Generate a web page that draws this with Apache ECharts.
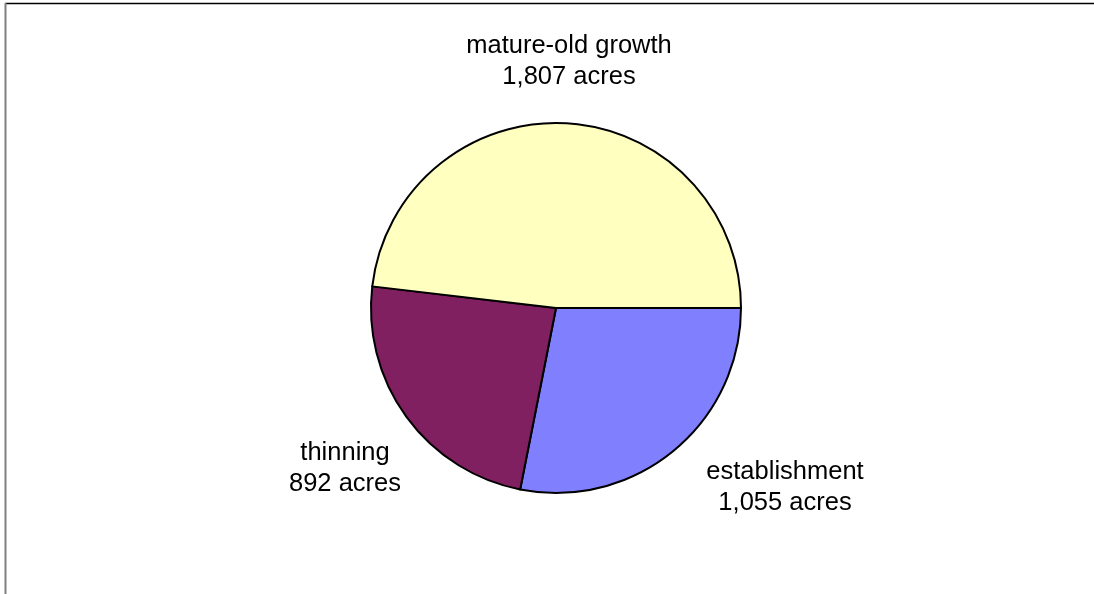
<!DOCTYPE html>
<html>
<head>
<meta charset="utf-8">
<script src="https://cdn.jsdelivr.net/npm/echarts@6/dist/echarts.min.js"></script>
<style>
html,body{margin:0;padding:0;background:#fff;}
#chart{width:1094px;height:594px;}
</style>
</head>
<body>
<div id="chart"></div>
<script>
// Data
var categories = ['establishment', 'thinning', 'mature-old growth'];
var values = [1055, 892, 1807];
var unitLabel = 'acres';

// Styles
var colors = ['#8080FF', '#802060', '#FFFFC0'];
var center = [556, 308];
var radius = 185;
// label block centre offsets from pie centre (style)
var labelOffsets = [[229, 179], [-211, 160], [13, -247]];

var chart = echarts.init(document.getElementById('chart'), null, {renderer: 'canvas'});

var data = categories.map(function (c, i) {
  return {name: c, value: values[i], itemStyle: {color: colors[i]}};
});

chart.setOption({
  backgroundColor: '#ffffff',
  animation: false,
  graphic: [
    {type: 'line', shape: {x1: 5, y1: 3.5, x2: 1094, y2: 3.5}, style: {stroke: '#000', lineWidth: 1.5}},
    {type: 'line', shape: {x1: 5.5, y1: 3, x2: 5.5, y2: 594}, style: {stroke: '#808080', lineWidth: 2}}
  ],
  series: [{
    type: 'pie',
    center: center,
    radius: radius,
    startAngle: 0,
    clockwise: true,
    avoidLabelOverlap: false,
    data: data,
    itemStyle: {borderColor: '#000', borderWidth: 2},
    label: {
      show: true,
      position: 'outside',
      color: '#000',
      fontFamily: 'Liberation Sans, Arial, sans-serif',
      fontSize: 25.5,
      lineHeight: 31,
      align: 'center',
      formatter: function (p) {
        return p.name + '\n' + p.value.toLocaleString('en-US') + ' ' + unitLabel;
      }
    },
    labelLine: {show: false},
    labelLayout: function (p) {
      var o = labelOffsets[p.dataIndex];
      return {x: center[0] + o[0], y: center[1] + o[1], align: 'center', verticalAlign: 'middle'};
    },
    emphasis: {disabled: true}
  }]
});
</script>
</body>
</html>
